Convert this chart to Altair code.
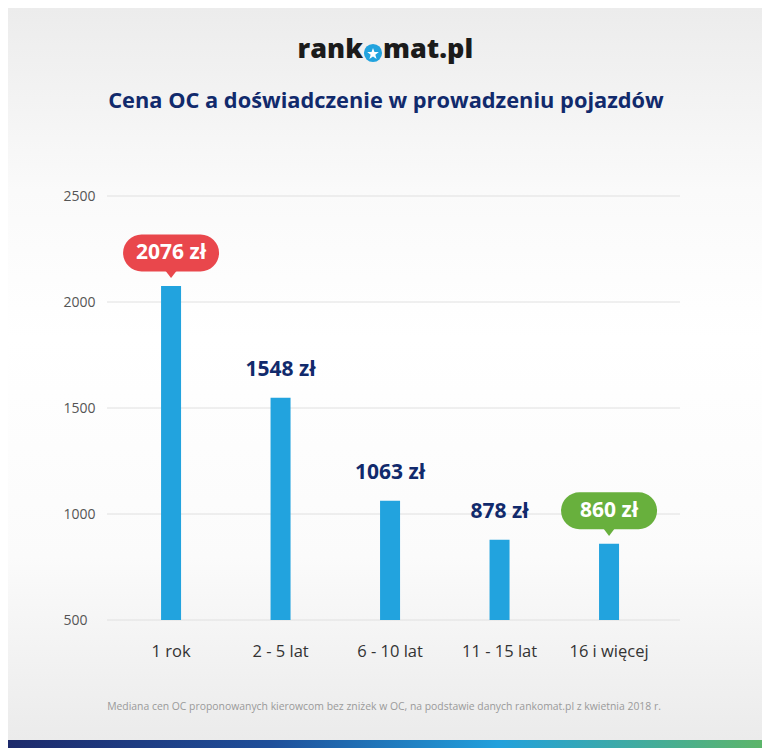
import altair as alt
import pandas as pd

categories = ["1 rok", "2 - 5 lat", "6 - 10 lat", "11 - 15 lat", "16 i więcej"]
values = [2076, 1548, 1063, 878, 860]
y_ticks = [500, 1000, 1500, 2000, 2500]

title_text = "Cena OC a doświadczenie w prowadzeniu pojazdów"
footer_text = "Mediana cen OC proponowanych kierowcom bez zniżek w OC, na podstawie danych rankomat.pl z kwietnia 2018 r."

FONT = "Open Sans"
NAVY = "#112a6c"
BLUE = "#22a3de"
RED = "#e9474c"
GREEN = "#68b03d"

df = pd.DataFrame({"cat": categories, "val": values})
df["label"] = df["val"].astype(str) + " zł"
vmax, vmin = df["val"].max(), df["val"].min()
df["kind"] = ["max" if v == vmax else ("min" if v == vmin else "plain") for v in df["val"]]
grid_df = pd.DataFrame({"tick": y_ticks})

W, H = 573, 424
PL, PT, PR, PB = 99, 188, 82, 128

x_scale = alt.Scale(paddingInner=0.817, paddingOuter=0.525, align=0.47)
y_scale = alt.Scale(domain=[500, 2500], zero=False, nice=False)

x_enc = alt.X("cat:N", sort=categories, title=None, scale=x_scale,
              axis=alt.Axis(labelAngle=0, labelFont=FONT, labelFontSize=16.5, labelColor="#333333",
                            labelPadding=23, ticks=False, domain=False, grid=False, zindex=2))
y_enc = alt.Y("val:Q", title=None, scale=y_scale,
              axis=alt.Axis(values=y_ticks, format="d", labelFont=FONT, labelFontSize=14,
                            labelColor="#555555", labelAlign="left", labelPadding=44, tickSize=0,
                            ticks=False, domain=False, grid=False, zindex=2))

one = alt.Data(values=[{}])

bg = alt.Chart(one).mark_rect(
    color=alt.Gradient(gradient="linear", x1=0, x2=0, y1=0, y2=1,
                       stops=[alt.GradientStop(color="#ececec", offset=0),
                              alt.GradientStop(color="#fafafa", offset=0.25),
                              alt.GradientStop(color="#ffffff", offset=0.45),
                              alt.GradientStop(color="#fbfbfb", offset=0.75),
                              alt.GradientStop(color="#ebebeb", offset=1)])
).encode(x=alt.value(-PL), x2=alt.value(W + PR), y=alt.value(-PT), y2=alt.value(H + PB - 8))

bottom_bar = alt.Chart(one).mark_rect(
    color=alt.Gradient(gradient="linear", x1=0, x2=1, y1=0, y2=0,
                       stops=[alt.GradientStop(color="#1d2a6b", offset=0),
                              alt.GradientStop(color="#1f4f9a", offset=0.35),
                              alt.GradientStop(color="#22a0dc", offset=0.65),
                              alt.GradientStop(color="#5cb56a", offset=1)])
).encode(x=alt.value(-PL), x2=alt.value(W + PR), y=alt.value(H + PB - 8), y2=alt.value(H + PB))

grid = alt.Chart(grid_df).mark_rule(color="#e0e0e0", strokeWidth=1).encode(
    y=alt.Y("tick:Q", scale=y_scale), x=alt.value(0), x2=alt.value(W))

logo_left = alt.Chart(one).mark_text(text="rank", align="right", baseline="middle",
                                     font=FONT, fontSize=27, fontWeight=800, color="#1b1b1b"
                                     ).encode(x=alt.value(256), y=alt.value(-146))
logo_circle = alt.Chart(one).mark_point(shape="circle", filled=True, size=330, color="#22a3de", opacity=1
                                        ).encode(x=alt.value(266), y=alt.value(-143))
logo_star = alt.Chart(one).mark_point(shape="M0,-1L0.235,-0.324L0.951,-0.309L0.38,0.124L0.588,0.809L0,0.4L-0.588,0.809L-0.38,0.124L-0.951,-0.309L-0.235,-0.324Z",
                                      filled=True, size=150, color="white", opacity=1
                                      ).encode(x=alt.value(266), y=alt.value(-142))
logo_right = alt.Chart(one).mark_text(text="mat.pl", align="left", baseline="middle",
                                      font=FONT, fontSize=27, fontWeight=800, color="#1b1b1b"
                                      ).encode(x=alt.value(276), y=alt.value(-146))

title = alt.Chart(one).mark_text(text=title_text, align="center", baseline="middle",
                                 font=FONT, fontSize=21.8, fontWeight="bold", color=NAVY
                                 ).encode(x=alt.value(279), y=alt.value(-95))
footer = alt.Chart(one).mark_text(text=footer_text, align="center", baseline="middle",
                                  font=FONT, fontSize=10.4, color="#9a9a9a"
                                  ).encode(x=alt.value(277), y=alt.value(511))

base = alt.Chart(df)
bars = base.mark_bar(width=20, color=BLUE).encode(x=x_enc, y=y_enc, y2=alt.datum(500))

plain_labels = base.transform_filter(alt.datum.kind == "plain").mark_text(
    font=FONT, fontSize=21, fontWeight="bold", color=NAVY, baseline="middle", dy=-28
).encode(x=alt.X("cat:N", sort=categories), y="val:Q", text="label:N")

hl = base.transform_filter(alt.datum.kind != "plain")
color_scale = alt.Scale(domain=["max", "min"], range=[RED, GREEN])
bubble = hl.mark_rect(width=96, height=37, cornerRadius=18.5, yOffset=-33).encode(
    x=alt.X("cat:N", sort=categories), y="val:Q",
    color=alt.Color("kind:N", scale=color_scale, legend=None))
pointer = hl.mark_point(shape="M-1,-0.6L1,-0.6L0,0.7Z", filled=True, size=144, opacity=1, yOffset=-12).encode(
    x=alt.X("cat:N", sort=categories), y="val:Q",
    color=alt.Color("kind:N", scale=color_scale, legend=None))
bubble_text = hl.mark_text(font=FONT, fontSize=21, fontWeight="bold", color="white",
                           baseline="middle", dy=-33).encode(
    x=alt.X("cat:N", sort=categories), y="val:Q", text="label:N")

chart = alt.layer(
    bg, bottom_bar, grid, bars, plain_labels, bubble, pointer, bubble_text,
    logo_left, logo_circle, logo_star, logo_right, title, footer
).properties(
    width=W, height=H,
    autosize=alt.AutoSizeParams(type="none"),
    padding={"left": PL, "top": PT, "right": PR, "bottom": PB},
    background="#ffffff"
).configure_view(stroke=None)

chart.save("out.html", embed_options={"renderer": "svg", "actions": False})
